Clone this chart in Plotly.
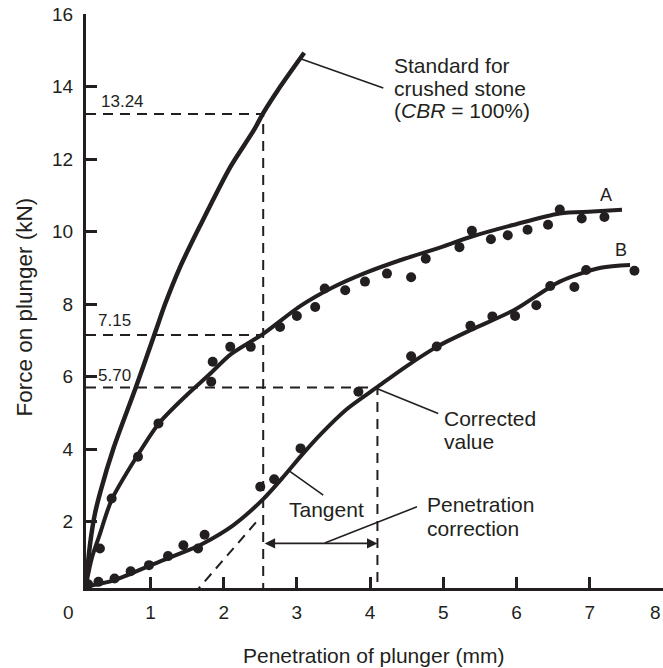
import plotly.graph_objects as go

# ---------------- data ----------------
# Standard curve for crushed stone (CBR = 100%)
std_x = [0.12, 0.14, 0.18, 0.24, 0.32, 0.50, 0.80, 1.07, 1.20, 1.40, 1.67, 2.09, 2.41, 2.55, 2.74, 3.10]
std_y = [0.20, 0.70, 1.45, 2.20, 2.85, 4.05, 5.70, 7.25, 8.00, 9.00, 10.13, 11.78, 12.79, 13.30, 13.90, 14.93]

# Sample A: fitted curve and measured points
a_line_x = [0.12, 0.20, 0.30, 0.47, 0.80, 1.12, 1.50, 1.80, 2.10, 2.54, 3.05, 3.48, 3.91, 4.47, 4.91, 5.37, 5.95, 6.59, 7.04, 7.44]
a_line_y = [0.25, 1.00, 1.60, 2.60, 3.75, 4.72, 5.50, 6.05, 6.62, 7.18, 7.95, 8.45, 8.84, 9.25, 9.53, 9.85, 10.18, 10.50, 10.55, 10.60]
a_pts_x = [0.31, 0.47, 0.83, 1.11, 1.83, 1.85, 2.09, 2.37, 2.77, 3.00, 3.25, 3.38, 3.66, 3.93, 4.23, 4.56, 4.76,
           5.22, 5.39, 5.65, 5.88, 6.15, 6.43, 6.59, 6.89, 7.20]
a_pts_y = [1.26, 2.64, 3.79, 4.71, 5.86, 6.41, 6.82, 6.82, 7.37, 7.67, 7.92, 8.43, 8.38, 8.62, 8.84, 8.74, 9.25,
           9.57, 10.02, 9.79, 9.90, 10.05, 10.19, 10.61, 10.36, 10.40]

# Sample B: fitted curve and measured points
b_line_x = [0.15, 0.50, 1.03, 1.50, 1.72, 2.13, 2.54, 2.80, 3.06, 3.33, 3.68, 4.09, 4.47, 4.91, 5.37, 5.98, 6.59, 7.15, 7.55]
b_line_y = [0.22, 0.38, 0.82, 1.20, 1.40, 1.90, 2.62, 3.20, 3.82, 4.42, 5.10, 5.70, 6.25, 6.82, 7.28, 7.85, 8.62, 9.00, 9.08]
b_pts_x = [0.15, 0.29, 0.51, 0.73, 0.98, 1.24, 1.45, 1.65, 1.74, 2.50, 2.69, 3.05, 3.84, 4.56, 4.91,
           5.37, 5.67, 5.98, 6.27, 6.46, 6.79, 6.95, 7.61]
b_pts_y = [0.27, 0.34, 0.43, 0.63, 0.80, 1.05, 1.35, 1.26, 1.64, 2.96, 3.17, 4.02, 5.58, 6.56, 6.83,
           7.40, 7.66, 7.67, 7.97, 8.50, 8.47, 8.94, 8.92]

# Tangent to curve B (dashed)
tangent_x = [1.59, 2.45]
tangent_y = [0.00, 2.00]

# Reading values
pen_std = 2.54          # standard penetration (mm)
pen_corr = 4.10         # corrected penetration (mm)
load_std = 13.24        # kN
load_a = 7.15           # kN
load_b = 5.70           # kN

x_ticks = [1, 2, 3, 4, 5, 6, 7]
y_ticks = [2, 4, 6, 8, 10, 12, 14, 16]

# leader lines [x0, y0, x1, y1]
leader_std = [3.06, 14.76, 4.18, 13.96]
leader_tan = [2.88, 3.42, 3.36, 2.73]
leader_cor = [4.09, 5.67, 4.93, 4.98]
leader_pen = [3.38, 1.41, 4.64, 2.41]

X0, Y0 = 0.12, 0.17
INK = "#231f20"
FONT = "Liberation Sans, Arial, Helvetica, sans-serif"

fig = go.Figure()

fig.add_trace(go.Scatter(x=std_x, y=std_y, mode="lines",
                         line=dict(color=INK, width=4.5, shape="spline", smoothing=0.8),
                         showlegend=False, hoverinfo="skip"))
fig.add_trace(go.Scatter(x=a_line_x, y=a_line_y, mode="lines",
                         line=dict(color=INK, width=4, shape="spline", smoothing=0.8),
                         showlegend=False, hoverinfo="skip"))
fig.add_trace(go.Scatter(x=a_pts_x, y=a_pts_y, mode="markers",
                         marker=dict(color=INK, size=10), showlegend=False))
fig.add_trace(go.Scatter(x=b_line_x, y=b_line_y, mode="lines",
                         line=dict(color=INK, width=4, shape="spline", smoothing=0.8),
                         showlegend=False, hoverinfo="skip"))
fig.add_trace(go.Scatter(x=b_pts_x, y=b_pts_y, mode="markers",
                         marker=dict(color=INK, size=10), showlegend=False))

dash = dict(color=INK, width=2, dash="10px,7px")
# tangent
fig.add_trace(go.Scatter(x=tangent_x, y=tangent_y, mode="lines", line=dash,
                         showlegend=False, hoverinfo="skip"))
# reading lines
fig.add_trace(go.Scatter(x=[X0, pen_std, pen_std], y=[load_std, load_std, 0], mode="lines", line=dash,
                         showlegend=False, hoverinfo="skip"))
fig.add_trace(go.Scatter(x=[X0, pen_std], y=[load_a, load_a], mode="lines", line=dash,
                         showlegend=False, hoverinfo="skip"))
fig.add_trace(go.Scatter(x=[X0, pen_corr, pen_corr], y=[load_b, load_b, 0], mode="lines", line=dash,
                         showlegend=False, hoverinfo="skip"))

# leader lines
for ld in (leader_std, leader_tan, leader_cor, leader_pen):
    fig.add_shape(type="line", xref="x", yref="y", x0=ld[0], y0=ld[1], x1=ld[2], y1=ld[3],
                  line=dict(color=INK, width=1.6))

ann = []
def txt(x, y, s, size=21, xanchor="left", xref="x", yref="y", angle=0):
    ann.append(dict(x=x, y=y, xref=xref, yref=yref, text=s, showarrow=False,
                    xanchor=xanchor, yanchor="middle", textangle=angle,
                    font=dict(family=FONT, size=size, color=INK)))

txt(4.30, 14.57, "Standard for")
txt(4.30, 13.95, "crushed stone")
txt(4.30, 13.33, "(<i>CBR</i> = 100%)")
txt(4.98, 4.84, "Corrected")
txt(4.98, 4.20, "value")
txt(4.75, 2.48, "Penetration")
txt(4.75, 1.80, "correction")
txt(3.41, 2.34, "Tangent", xanchor="center")
txt(7.22, 11.0, "A", size=18, xanchor="center")
txt(7.42, 9.49, "B", size=18, xanchor="center")
txt(0.62, 13.6, "13.24", size=17, xanchor="center")
txt(0.51, 7.56, "7.15", size=17, xanchor="center")
txt(0.51, 6.04, "5.70", size=17, xanchor="center")
# corner "0" and the edge "8" tick labels
txt(-0.031, -0.042, "0", size=19, xanchor="center", xref="paper", yref="paper")
txt(1.0, -0.042, "8", size=19, xanchor="right", xref="paper", yref="paper")
# axis titles
txt(0.4978, -0.118, "Penetration of plunger (mm)", xanchor="center", xref="paper", yref="paper")
txt(-0.107, 0.489, "Force on plunger (kN)", size=22.5, xanchor="center", xref="paper", yref="paper", angle=-90)

# double-headed penetration correction arrow
ann.append(dict(x=pen_corr, y=1.40, ax=pen_std, ay=1.40, xref="x", yref="y", axref="x", ayref="y",
                text="", showarrow=True, arrowhead=2, arrowside="end+start", arrowsize=1.3,
                arrowwidth=1.6, arrowcolor=INK, standoff=0, startstandoff=0))

fig.update_layout(
    width=663, height=668,
    margin=dict(l=86, r=0, t=14, b=80),
    paper_bgcolor="white", plot_bgcolor="white",
    annotations=ann,
    font=dict(family=FONT, color=INK),
    xaxis=dict(range=[X0, 8.0], tickvals=x_ticks + [8], ticktext=[str(t) for t in x_ticks] + [""],
               ticks="inside", ticklen=11, tickwidth=2.5,
               tickcolor=INK, showline=True, linecolor=INK, linewidth=3, showgrid=False,
               zeroline=False, tickfont=dict(family=FONT, size=19, color=INK),
               ticklabelstandoff=5),
    yaxis=dict(range=[Y0, 16.0], tickvals=y_ticks, ticks="inside", ticklen=11, tickwidth=2.5,
               tickcolor=INK, showline=True, linecolor=INK, linewidth=3, showgrid=False,
               zeroline=False, tickfont=dict(family=FONT, size=19, color=INK),
               ticklabelstandoff=6),
)

fig.write_html("out.html")
